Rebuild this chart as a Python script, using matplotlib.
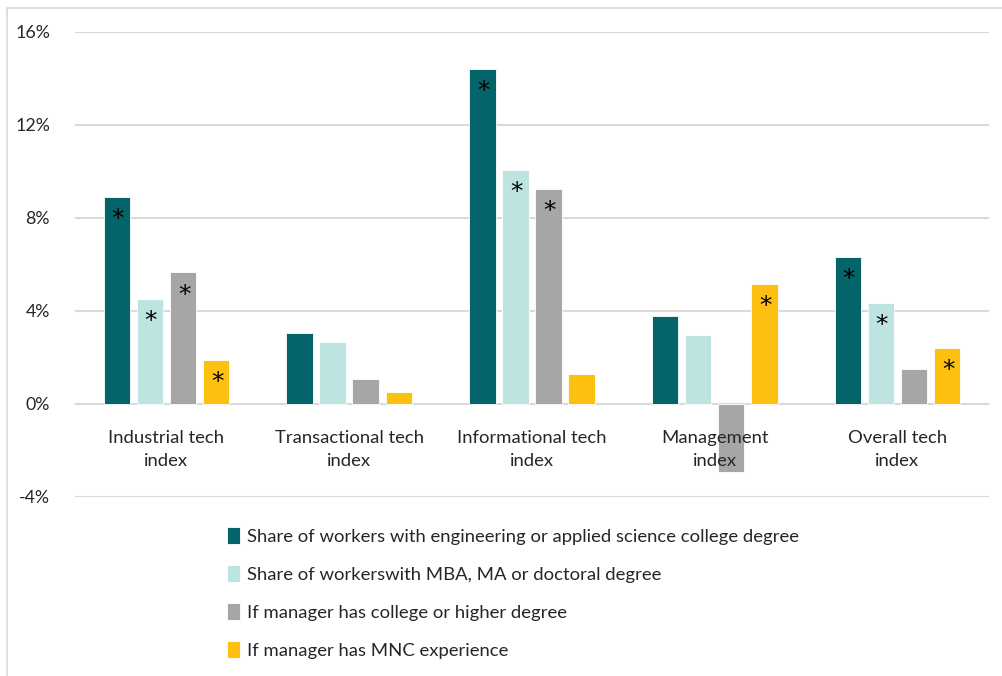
import numpy as np
import matplotlib
matplotlib.use("Agg")
from matplotlib import pyplot as plt
from matplotlib.patches import Rectangle

plt.rcParams['font.family'] = ['Lato', 'DejaVu Sans']

categories = ["Industrial tech\nindex", "Transactional tech\nindex",
              "Informational tech\nindex", "Management\nindex",
              "Overall tech\nindex"]
series_names = ["Share of workers with engineering or applied science college degree",
                "Share of workerswith MBA, MA or doctoral degree",
                "If manager has college or higher degree",
                "If manager has MNC experience"]
eng_degree = [8.89, 3.05, 14.42, 3.78, 6.34]
mba_degree = [4.50, 2.68, 10.05, 2.97, 4.36]
mgr_college = [5.66, 1.08, 9.25, -2.91, 1.52]
mgr_mnc = [1.88, 0.50, 1.29, 5.16, 2.40]
# significance flags, one row per series
eng_sig = [1, 0, 1, 0, 1]
mba_sig = [1, 0, 1, 0, 1]
college_sig = [1, 0, 1, 0, 0]
mnc_sig = [1, 0, 0, 1, 1]

colors = ["#05646a", "#bde4e0", "#a6a6a6", "#fdc010"]
values = [eng_degree, mba_degree, mgr_college, mgr_mnc]
sigs = [eng_sig, mba_sig, college_sig, mnc_sig]

fig = plt.figure(figsize=(10.03, 6.76), dpi=100)
ax = fig.add_axes([0.0748, 0.2648, 0.911, 0.688])

x = np.arange(len(categories))
step = 0.181
width = 0.145
for k, (vals, sig, col, name) in enumerate(zip(values, sigs, colors, series_names)):
    pos = x + (k - 1.5) * step
    ax.bar(pos, vals, width, color=col, label=name, edgecolor="white",
           linewidth=0.6, zorder=3)
    for p, v, s in zip(pos, vals, sig):
        if s:
            ax.annotate("*", (p, v), xytext=(0.8, -21), textcoords="offset points",
                        ha="center", va="baseline", fontsize=18, color="black",
                        family="DejaVu Sans", zorder=4)

ax.set_xlim(-0.5, len(categories) - 0.5)
ax.set_ylim(-4, 16)
ax.set_yticks([-4, 0, 4, 8, 12, 16])
ax.set_yticklabels(["-4%", "0%", "4%", "8%", "12%", "16%"])
ax.tick_params(axis="y", length=0, pad=18, labelsize=12.8, colors="#262626")
ax.set_xticks([])
ax.grid(axis="y", color="#d9d9d9", linewidth=1.5, zorder=0)
for sp in ax.spines.values():
    sp.set_visible(False)

for i, lab in enumerate(categories):
    ax.annotate(lab, (i, 0), xytext=(0, -18.5), textcoords="offset points",
                ha="center", va="top", fontsize=13.3, color="#262626",
                linespacing=1.6, zorder=5)

leg = fig.legend(loc="upper left", bbox_to_anchor=(0.226, 0.22),
                 frameon=False, fontsize=13.3, handlelength=0.7,
                 handleheight=1.0, handletextpad=0.4, labelspacing=1.1,
                 borderpad=0, borderaxespad=0)
for t in leg.get_texts():
    t.set_color("#262626")

# outer chart frame
fig.patches.append(Rectangle((7 / 1003, -0.1), 1.2, 1.1 - 8 / 676,
                             transform=fig.transFigure, fill=False,
                             edgecolor="#d9d9d9", linewidth=1.2))

fig.savefig("out.png", dpi=100)
